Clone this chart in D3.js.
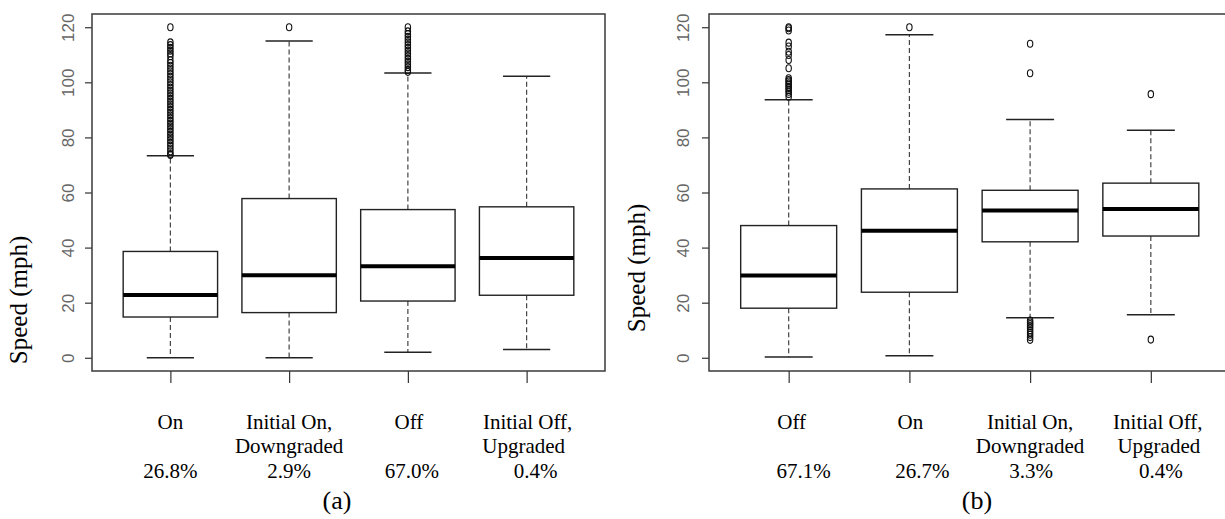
<!DOCTYPE html>
<html>
<head>
<meta charset="utf-8">
<script src="https://cdn.jsdelivr.net/npm/d3@7/dist/d3.min.js"></script>
<style>
  html, body { margin: 0; padding: 0; background: #fff; }
  svg { display: block; }
  .serif { font-family: "Liberation Serif", "Times New Roman", Times, "DejaVu Serif", serif; }
</style>
</head>
<body>
<svg id="chart" width="1225" height="519"></svg>
<script>
// ---------------- DATA ----------------
const yTicks = [0, 20, 40, 60, 80, 100, 120];

// Panel (a)
const catsA = ["On", "Initial On, Downgraded", "Off", "Initial Off, Upgraded"];
const labelLinesA = [["On", "", "26.8%"], ["Initial On,", "Downgraded", "2.9%"], ["Off", "", "67.0%"], ["Initial Off,", "Upgraded", "0.4%"]];
const lowA = [0, 0, 2.0, 3.0];
const q1A = [14.8, 16.4, 20.6, 22.7];
const medA = [22.8, 30.0, 33.2, 36.2];
const q3A = [38.6, 57.8, 53.8, 54.8];
const highA = [73.3, 115.0, 103.4, 102.2];
const outA = [
  [120, 114.5, 113.5, 112.5, 111.5, 110.5, 109.5, 108, 107, 106, 105, 104, 103, 102, 101, 100, 99, 98, 97, 96, 95, 94,
   93, 92, 91, 90, 89, 88, 87, 86, 85, 84, 83, 82, 81, 80, 79, 78, 77, 76, 75, 74, 73.6],
  [120],
  [120, 118.5, 117.5, 116.5, 115.5, 114.5, 113.5, 112.5, 111.5, 110.5, 109.5, 108.5, 107.5, 106.5, 105.5, 104.5, 103.8],
  []
];

// Panel (b)
const catsB = ["Off", "On", "Initial On, Downgraded", "Initial Off, Upgraded"];
const labelLinesB = [["Off", "", "67.1%"], ["On", "", "26.7%"], ["Initial On,", "Downgraded", "3.3%"], ["Initial Off,", "Upgraded", "0.4%"]];
const lowB = [0.3, 0.7, 14.5, 15.6];
const q1B = [18.0, 23.8, 42.1, 44.2];
const medB = [29.9, 46.1, 53.5, 54.0];
const q3B = [48.0, 61.3, 60.8, 63.4];
const highB = [93.7, 117.3, 86.5, 82.6];
const outB = [
  [120, 119.6, 118.8, 114.4, 113, 111.1, 109.9, 108.1, 105.1, 101.5, 100.8, 100.3, 99.6, 99.1, 98.4, 97.9, 97.2, 96.6, 95.8, 94.8],
  [120],
  [114.0, 103.3, 13.5, 12.8, 12.2, 11.5, 10.8, 10.0, 9.2, 8.4, 7.5, 6.5],
  [95.7, 6.6]
];

// ---------------- LAYOUT (not data) ----------------
const panels = [
  { cats: catsA, lines: labelLinesA, low: lowA, q1: q1A, med: medA, q3: q3A, high: highA, out: outA,
    left: 92, right: 605, titleX: 27, titleY: 300, tickLabelOff: 18, tag: "(a)", tagX: 337,
    nudge: [[0, 0, 0], [0, 0, 0], [1, 0, 4], [1, -3, 9]] },
  { cats: catsB, lines: labelLinesB, low: lowB, q1: q1B, med: medB, q3: q3B, high: highB, out: outB,
    left: 709, right: 1230.5, titleX: 645, titleY: 268, tickLabelOff: 20, tag: "(b)", tagX: 977,
    nudge: [[3, 0, 15], [1, 0, 13], [0, 0, 1], [7, 8, 10]] }
];
const plotTop = 14, plotBottom = 371;

const svg = d3.select("#chart");
const y = d3.scaleLinear().domain([-4.8, 124.8]).range([plotBottom, plotTop]);

panels.forEach(p => {
  const g = svg.append("g");
  const x = d3.scaleLinear().domain([0.34, 4.66]).range([p.left, p.right]);
  const unit = x(2) - x(1);
  const boxW = unit * 0.795;
  const capW = boxW / 2;

  // Y axis
  const yAxis = g.append("g")
    .attr("transform", `translate(${p.left},0)`)
    .call(d3.axisLeft(y).tickValues(yTicks).tickSize(7).tickFormat(d3.format("d")));
  yAxis.select(".domain").remove();
  yAxis.selectAll(".tick line").attr("stroke", "#333").attr("stroke-width", 1.2);
  yAxis.selectAll(".tick text")
    .attr("x", null).attr("dy", null)
    .attr("transform", `translate(${-p.tickLabelOff},0) rotate(-90)`)
    .attr("text-anchor", "middle")
    .attr("font-family", "'Liberation Sans', Arial, sans-serif")
    .attr("font-size", 17)
    .attr("fill", "#666");

  // X axis (tick marks only)
  const xAxis = g.append("g")
    .attr("transform", `translate(0,${plotBottom})`)
    .call(d3.axisBottom(x).tickValues([1, 2, 3, 4]).tickSize(12).tickFormat(""));
  xAxis.select(".domain").remove();
  xAxis.selectAll(".tick line").attr("stroke", "#333").attr("stroke-width", 1.2);

  // frame
  g.append("rect")
    .attr("x", p.left).attr("y", plotTop)
    .attr("width", p.right - p.left).attr("height", plotBottom - plotTop)
    .attr("fill", "none").attr("stroke", "#3a3a3a").attr("stroke-width", 1.5);

  // boxes
  p.cats.forEach((c, i) => {
    const cx = x(i + 1);
    const bg = g.append("g");
    // whiskers (dashed)
    bg.append("line").attr("x1", cx).attr("x2", cx).attr("y1", y(p.q3[i])).attr("y2", y(p.high[i]))
      .attr("stroke", "#444").attr("stroke-width", 1.2).attr("stroke-dasharray", "5,3");
    bg.append("line").attr("x1", cx).attr("x2", cx).attr("y1", y(p.q1[i])).attr("y2", y(p.low[i]))
      .attr("stroke", "#444").attr("stroke-width", 1.2).attr("stroke-dasharray", "5,3");
    // caps
    [p.high[i], p.low[i]].forEach(v => {
      bg.append("line").attr("x1", cx - capW / 2).attr("x2", cx + capW / 2)
        .attr("y1", y(v)).attr("y2", y(v))
        .attr("stroke", "#222").attr("stroke-width", 1.5);
    });
    // box
    bg.append("rect")
      .attr("x", cx - boxW / 2).attr("width", boxW)
      .attr("y", y(p.q3[i])).attr("height", y(p.q1[i]) - y(p.q3[i]))
      .attr("fill", "#fff").attr("stroke", "#222").attr("stroke-width", 1.4);
    // median
    bg.append("line").attr("x1", cx - boxW / 2).attr("x2", cx + boxW / 2)
      .attr("y1", y(p.med[i])).attr("y2", y(p.med[i]))
      .attr("stroke", "#000").attr("stroke-width", 4);
    // outliers
    bg.selectAll("ellipse.o").data(p.out[i]).enter().append("ellipse")
      .attr("class", "o")
      .attr("cx", cx).attr("cy", d => y(d))
      .attr("rx", 2.7).attr("ry", 3.5)
      .attr("fill", "none").attr("stroke", "#111").attr("stroke-width", 1.1);

    // category labels
    const baselines = [429, 453, 477.5];
    p.lines[i].forEach((t, k) => {
      if (!t) return;
      g.append("text")
        .attr("class", "serif")
        .attr("x", cx + p.nudge[i][k]).attr("y", baselines[k])
        .attr("text-anchor", "middle")
        .attr("font-size", 21)
        .attr("fill", "#000")
        .text(t);
    });
  });

  // y title
  g.append("text")
    .attr("class", "serif")
    .attr("transform", `translate(${p.titleX},${p.titleY}) rotate(-90)`)
    .attr("text-anchor", "middle")
    .attr("font-size", 25)
    .attr("fill", "#000")
    .text("Speed (mph)");

  // panel tag
  g.append("text")
    .attr("class", "serif")
    .attr("x", p.tagX).attr("y", 509)
    .attr("text-anchor", "middle")
    .attr("font-size", 26)
    .attr("fill", "#000")
    .text(p.tag);
});
</script>
</body>
</html>
